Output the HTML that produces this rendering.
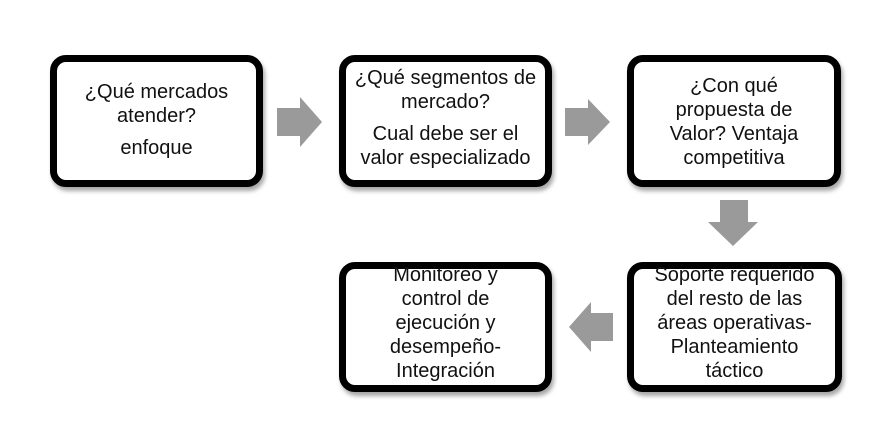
<!DOCTYPE html>
<html><head><meta charset="utf-8"><style>
body{margin:0;background:#fff;width:885px;height:431px;position:relative;overflow:hidden;font-family:"Liberation Sans",sans-serif;}
.b{position:absolute;box-sizing:border-box;border:7px solid #000;border-radius:16px;background:#fff;box-shadow:2px 4px 4px rgba(0,0,0,0.35);}
.t{position:absolute;text-align:center;font-size:20px;line-height:24px;color:#111;}
</style></head><body>
<div class="b" style="left:50px;top:55px;width:213px;height:132px"></div>
<div class="b" style="left:339px;top:55px;width:213px;height:132px"></div>
<div class="b" style="left:627px;top:55px;width:214px;height:132px"></div>
<div class="b" style="left:627px;top:262px;width:215px;height:130px"></div>
<div class="b" style="left:339px;top:262px;width:213px;height:130px"></div>

<div class="t" style="left:50px;width:213px;top:80px">¿Qué mercados<br>atender?<div style="margin-top:8px">enfoque</div></div>
<div class="t" style="left:339px;width:213px;top:66px">¿Qué segmentos de<br>mercado?<div style="margin-top:8px">Cual debe ser el<br>valor especializado</div></div>
<div class="t" style="left:627px;width:214px;top:74px">¿Con qué<br>propuesta de<br>Valor? Ventaja<br>competitiva</div>
<div class="t" style="left:627px;width:215px;top:263px">Soporte requerido<br>del resto de las<br>áreas operativas-<br>Planteamiento<br>táctico</div>
<div class="t" style="left:339px;width:213px;top:263px">Monitoreo y<br>control de<br>ejecución y<br>desempeño-<br>Integración</div>

<svg width="885" height="431" style="position:absolute;left:0;top:0">
<g fill="#9a9a9a">
<polygon points="277,108 300,108 300,97 322,122 300,147 300,136 277,136"/>
<polygon points="565,108 588,108 588,99 610,122 588,145 588,136 565,136"/>
<polygon points="720,200 748,200 748,222 758,222 733,246 708,222 720,222"/>
<polygon points="613,313 591,313 591,302 569,327 591,352 591,341 613,341"/>
</g></svg>
</body></html>
